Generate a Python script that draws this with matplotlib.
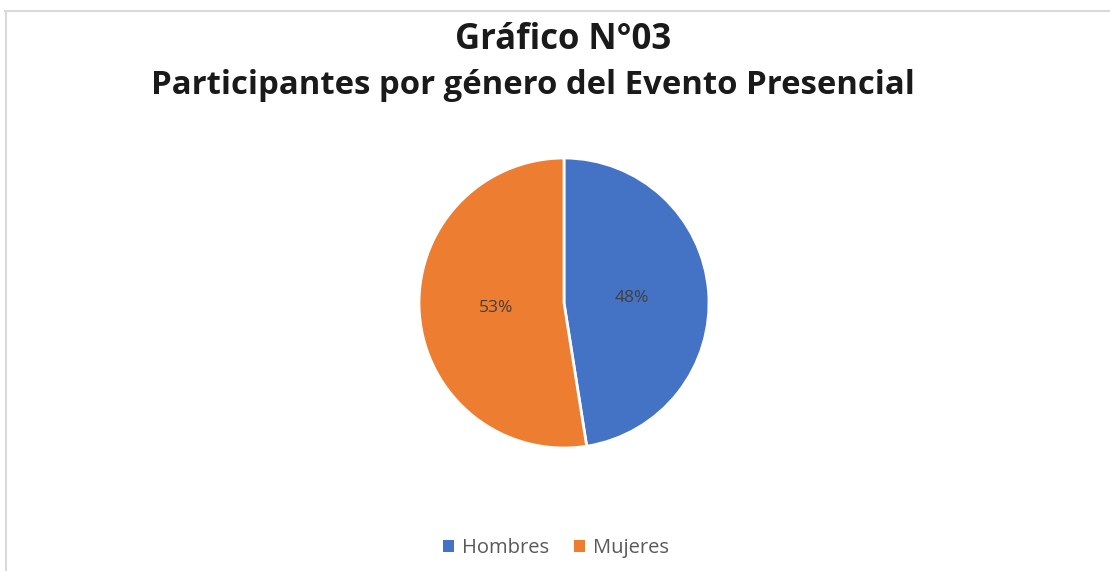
import matplotlib.pyplot as plt
from matplotlib.lines import Line2D
from matplotlib.patches import Patch
import math

categories = ['Hombres', 'Mujeres']
values = [19, 21]
colors = ['#4472C4', '#ED7D31']

title1 = 'Gráfico N°03'
title2 = 'Participantes por género del Evento Presencial'

plt.rcParams['font.family'] = ['Open Sans', 'DejaVu Sans']

W, H = 1110, 571
fig = plt.figure(figsize=(W / 100, H / 100), dpi=100)
fig.patch.set_facecolor('white')

# light chart-area border (top and left only are visible)
fig.add_artist(Line2D([5 / W, 1], [1 - 10.5 / H, 1 - 10.5 / H], color='#d9d9d9', lw=1.5))
fig.add_artist(Line2D([5.5 / W, 5.5 / W], [0, 1 - 10.5 / H], color='#d9d9d9', lw=1.5))

cx, cy, r = 564, 303, 145
ax = fig.add_axes([(cx - r) / W, (H - cy - r) / H, 2 * r / W, 2 * r / H])


def pct(p):
    # Excel-style rounding (half up); pie works in float32
    return '%d%%' % math.floor(p + 0.5 + 1e-4)


wedges, texts, autotexts = ax.pie(values, colors=colors, startangle=90, counterclock=False,
                                  autopct=pct, pctdistance=0.47,
                                  wedgeprops=dict(edgecolor='white', linewidth=2),
                                  textprops=dict(color='#404040', fontsize=12.5))
ax.set_aspect('equal')
ax.set_xlim(-1, 1)
ax.set_ylim(-1, 1)

fig.text(563 / W, 1 - 40 / H, title1, ha='center', va='center', fontsize=25, fontweight='bold', color='#1a1a1a')
fig.text(532.5 / W, 1 - 86 / H, title2, ha='center', va='center', fontsize=23.7, fontweight='bold', color='#1a1a1a')

handles = [Patch(facecolor=c, edgecolor='none') for c in colors]
fig.legend(handles, categories, loc='center', bbox_to_anchor=(556 / W, 1 - 548 / H), ncol=2,
           frameon=False, fontsize=14.5, labelcolor='#595959', handlelength=0.55, handleheight=0.55,
           handletextpad=0.4, columnspacing=1.2)

fig.savefig('out.png', dpi=100, facecolor='white')
